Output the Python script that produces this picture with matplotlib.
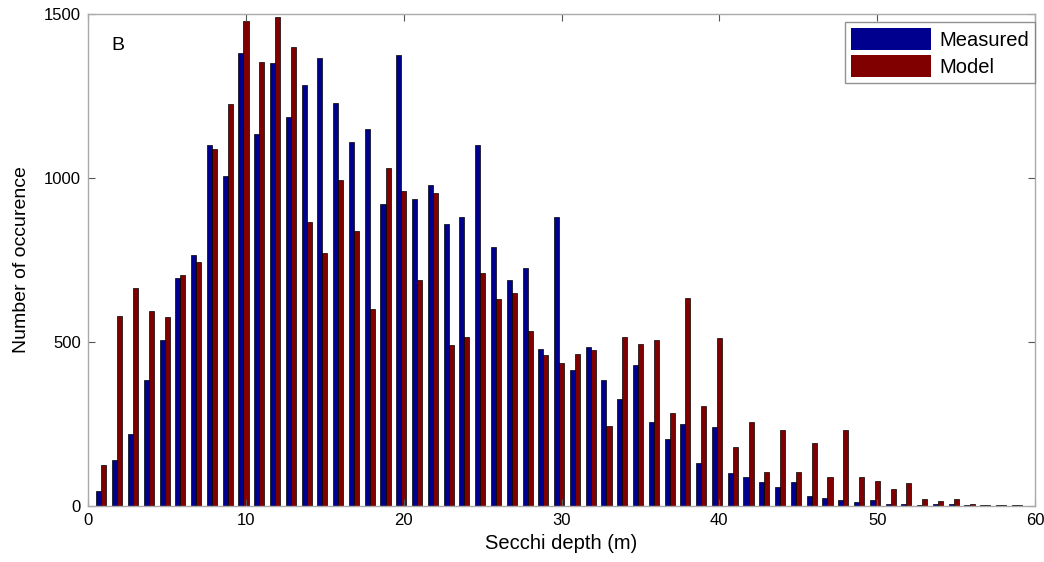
import numpy as np
import matplotlib
matplotlib.use("Agg")
import matplotlib.pyplot as plt

depth = list(range(1, 60))
measured = [45, 140, 220, 385, 505, 695, 765, 1100, 1005, 1380,
            1135, 1350, 1185, 1285, 1365, 1230, 1110, 1150, 920, 1375,
            935, 980, 860, 880, 1100, 790, 690, 725, 480, 880,
            415, 485, 385, 325, 430, 255, 205, 250, 130, 242,
            100, 88, 73, 58, 73, 30, 24, 18, 12, 18,
            6, 6, 3, 6, 5, 3, 2, 4, 2]
model = [125, 580, 665, 595, 575, 705, 745, 1090, 1225, 1480,
         1355, 1490, 1400, 865, 770, 995, 840, 600, 1030, 960,
         690, 955, 490, 515, 710, 630, 650, 535, 460, 435,
         465, 475, 245, 515, 495, 505, 285, 635, 305, 512,
         180, 257, 104, 232, 104, 192, 88, 232, 88, 75,
         52, 70, 21, 15, 21, 6, 2, 2, 2]
xticks = [0, 10, 20, 30, 40, 50, 60]
yticks = [0, 500, 1000, 1500]

plt.rcParams['font.family'] = ['Liberation Sans', 'DejaVu Sans']

fig = plt.figure(figsize=(10.44, 5.62), dpi=100)
ax = fig.add_axes([0.0843, 0.0996, 0.9071, 0.8754])

x = np.array(depth, dtype=float) - 0.15
w = 0.32
ax.bar(x - w / 2, measured, width=w, color='#00008f', edgecolor='black',
       linewidth=0.5, label='Measured')
ax.bar(x + w / 2, model, width=w, color='#800000', edgecolor='black',
       linewidth=0.5, label='Model')

ax.set_xlim(0, 60)
ax.set_ylim(0, 1500)
ax.set_xticks(xticks)
ax.set_yticks(yticks)
ax.tick_params(direction='in', top=True, right=True, length=5,
               color='#555555', labelsize=12, pad=5)
for s in ax.spines.values():
    s.set_color('#aaaaaa')
    s.set_linewidth(1.0)

ax.set_xlabel('Secchi depth (m)', fontsize=14.5, labelpad=4)
ax.set_ylabel('Number of occurence', fontsize=14, labelpad=10)
ax.text(0.032, 0.937, 'B', transform=ax.transAxes, fontsize=14,
        ha='center', va='center')

leg = ax.legend(loc='upper right', bbox_to_anchor=(1.0, 0.984),
                borderaxespad=0, fontsize=14.5, fancybox=False,
                frameon=True, handlelength=4.0, handleheight=1.3,
                handletextpad=0.4, labelspacing=0.25, borderpad=0.3)
leg.get_frame().set_edgecolor('#777777')
leg.get_frame().set_linewidth(1.0)
for p in leg.get_patches():
    p.set_edgecolor('none')

fig.savefig('out.png', dpi=100)
